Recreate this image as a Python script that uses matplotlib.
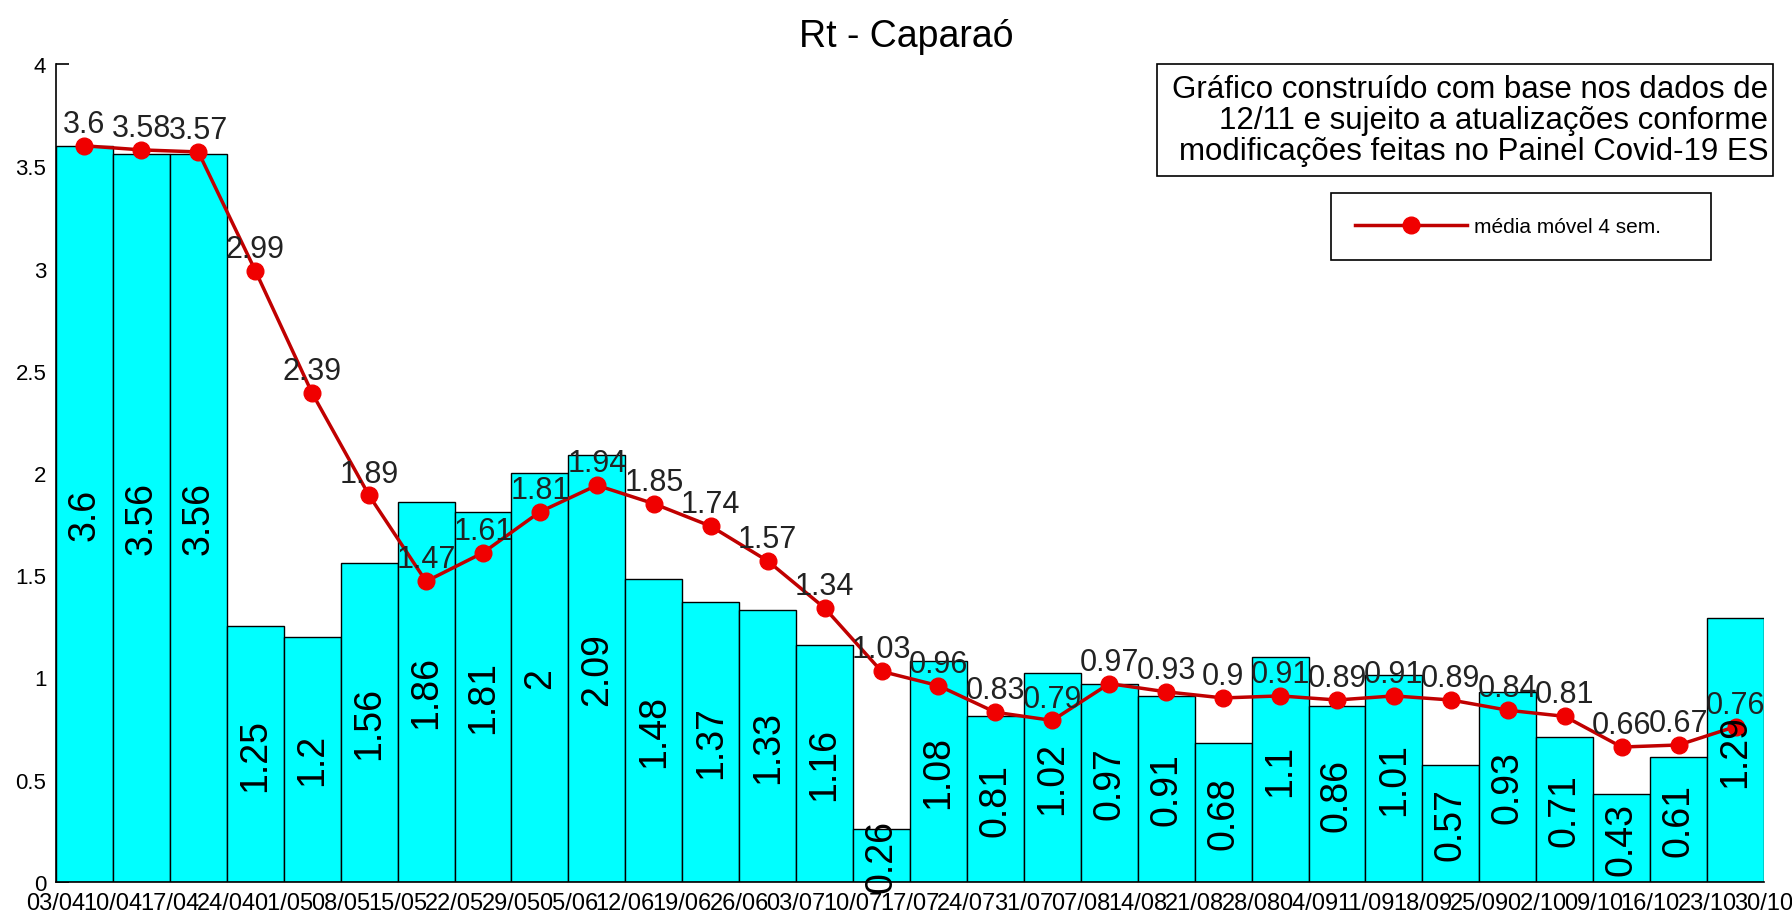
import matplotlib
matplotlib.use('Agg')
import matplotlib.pyplot as plt
import numpy as np
from matplotlib.patches import Rectangle

plt.rcParams['font.family'] = ['Liberation Sans', 'DejaVu Sans']

TITLE = 'Rt - Caparaó'
NOTE = ('Gráfico construído com base nos dados de\n'
        '12/11 e sujeito a atualizações conforme\n'
        'modificações feitas no Painel Covid-19 ES')
LINE_LABEL = 'média móvel 4 sem.'

dates = ['03/04', '10/04', '17/04', '24/04', '01/05', '08/05', '15/05', '22/05',
         '29/05', '05/06', '12/06', '19/06', '26/06', '03/07', '10/07', '17/07',
         '24/07', '31/07', '07/08', '14/08', '21/08', '28/08', '04/09', '11/09',
         '18/09', '25/09', '02/10', '09/10', '16/10', '23/10', '30/10']
rt_weekly = [3.6, 3.56, 3.56, 1.25, 1.2, 1.56, 1.86, 1.81, 2, 2.09,
             1.48, 1.37, 1.33, 1.16, 0.26, 1.08, 0.81, 1.02, 0.97, 0.91,
             0.68, 1.1, 0.86, 1.01, 0.57, 0.93, 0.71, 0.43, 0.61, 1.29]
rt_moving_avg = [3.6, 3.58, 3.57, 2.99, 2.39, 1.89, 1.47, 1.61, 1.81, 1.94,
                 1.85, 1.74, 1.57, 1.34, 1.03, 0.96, 0.83, 0.79, 0.97, 0.93,
                 0.9, 0.91, 0.89, 0.91, 0.89, 0.84, 0.81, 0.66, 0.67, 0.76]
y_ticks = [0, 0.5, 1, 1.5, 2, 2.5, 3, 3.5, 4]

W, H = 1792, 912
fig = plt.figure(figsize=(W / 100, H / 100), dpi=100)
ax = fig.add_axes([56 / W, 29 / H, (1764 - 56) / W, (883 - 65) / H])

x = np.arange(len(rt_weekly))
ax.bar(x, rt_weekly, width=1.0, color='#00FFFF', edgecolor='black', linewidth=1.0, zorder=2)
for xi, v in zip(x, rt_weekly):
    ax.text(xi, v / 2, f'{v:g}', rotation=90, ha='center', va='center',
            fontsize=27, color='black', zorder=5)

line, = ax.plot(x, rt_moving_avg, color='#C00000', lw=2.5, marker='o', markersize=12,
                markerfacecolor='#F00000', markeredgecolor='#F00000', zorder=4,
                label=LINE_LABEL)
for xi, v in zip(x, rt_moving_avg):
    ax.annotate(f'{v:g}', (xi, v), xytext=(0, 5), textcoords='offset points',
                ha='center', va='bottom', fontsize=22, color='#222222', zorder=6)

ax.set_xlim(-0.5, len(rt_weekly) - 0.5)
ax.set_ylim(0, 4)
ax.set_xticks(np.arange(len(dates)) - 0.5)
ax.set_xticklabels(dates, fontsize=17)
ax.set_yticks(y_ticks)
ax.set_yticklabels([f'{t:g}' for t in y_ticks], fontsize=16)
ax.tick_params(axis='x', length=0, pad=7)
ax.tick_params(axis='y', direction='in', length=9, width=1.2, pad=7)
for s in ['top', 'right']:
    ax.spines[s].set_visible(False)
for s in ['left', 'bottom']:
    ax.spines[s].set_linewidth(1.2)
    ax.spines[s].set_zorder(3)

fig.text(906 / W, 1 - 37 / H, TITLE, ha='center', va='center', fontsize=27)

# note box
fig.patches.append(Rectangle((1157 / W, 1 - 177 / H), (1773 - 1157) / W, (177 - 65) / H,
                             transform=fig.transFigure, facecolor='white',
                             edgecolor='black', linewidth=1.2, zorder=7))
fig.text(1768 / W, 1 - 121 / H, NOTE, ha='right', va='center', multialignment='right',
         fontsize=22.5, linespacing=1.05, zorder=8)

leg = ax.legend(handles=[line], loc='upper left',
                bbox_to_anchor=(1331 / W, 1 - 194 / H, (1711 - 1331) / W, 0),
                bbox_transform=fig.transFigure, mode='expand', borderaxespad=0,
                fontsize=15, handlelength=5.4, handletextpad=0.3, frameon=True,
                fancybox=False, borderpad=1.15, edgecolor='black', framealpha=1)
leg.get_frame().set_linewidth(1.2)

fig.savefig('out.png', dpi=100)
